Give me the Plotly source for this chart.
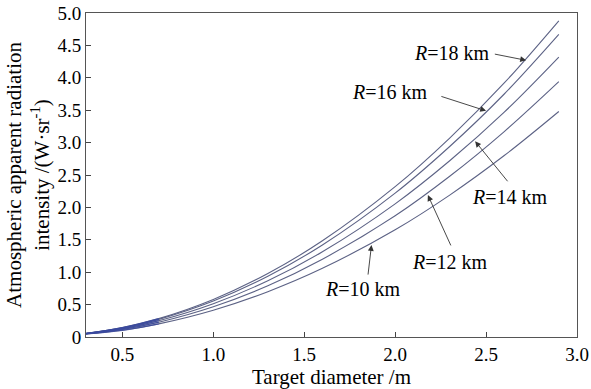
import plotly.graph_objects as go

diameter = [0.3, 0.5, 0.7, 1.0, 1.3, 1.6, 2.0, 2.3, 2.6, 2.9]
r18 = [0.055, 0.145, 0.284, 0.58, 0.98, 1.485, 2.32, 3.07, 3.92, 4.88]
r16 = [0.054, 0.139, 0.272, 0.555, 0.938, 1.42, 2.22, 2.94, 3.75, 4.67]
r14 = [0.052, 0.128, 0.252, 0.514, 0.868, 1.315, 2.055, 2.72, 3.47, 4.32]
r12 = [0.050, 0.117, 0.229, 0.468, 0.79, 1.2, 1.87, 2.48, 3.17, 3.94]
r10 = [0.048, 0.103, 0.203, 0.414, 0.70, 1.06, 1.655, 2.19, 2.80, 3.48]
series = [("R=18 km", r18), ("R=16 km", r16), ("R=14 km", r14), ("R=12 km", r12), ("R=10 km", r10)]

xticks = [0.5, 1.0, 1.5, 2.0, 2.5, 3.0]
xticklabels = ["0.5", "1.0", "1.5", "2.0", "2.5", "3.0"]
yticks = [0, 0.5, 1.0, 1.5, 2.0, 2.5, 3.0, 3.5, 4.0, 4.5, 5.0]
yticklabels = ["0", "0.5", "1.0", "1.5", "2.0", "2.5", "3.0", "3.5", "4.0", "4.5", "5.0"]

# label text position, arrow tail, arrow head (data coords)
labels = [
    ("<i>R</i>=18 km", 2.31, 4.38, 2.54, 4.37, 2.72, 4.27),
    ("<i>R</i>=16 km", 1.97, 3.78, 2.246, 3.72, 2.50, 3.49),
    ("<i>R</i>=14 km", 2.63, 2.16, 2.625, 2.38, 2.44, 3.02),
    ("<i>R</i>=12 km", 2.30, 1.16, 2.31, 1.39, 2.18, 2.19),
    ("<i>R</i>=10 km", 1.82, 0.74, 1.85, 0.94, 1.87, 1.42),
]

FONT = "Liberation Serif, DejaVu Serif, serif"
fig = go.Figure()
for name, ys in series:
    fig.add_trace(go.Scatter(x=diameter, y=ys, mode="lines", name=name,
                             line=dict(color="#5c6285", width=1.1, shape="spline", smoothing=1.0),
                             showlegend=False, hoverinfo="skip"))
# bluish low-diameter portion where the curves bunch together
for name, ys in series:
    fig.add_trace(go.Scatter(x=diameter[:3], y=ys[:3], mode="lines", name=name,
                             line=dict(color="#3a4aa0", width=1.4, shape="spline", smoothing=1.0),
                             opacity=0.8, showlegend=False, hoverinfo="skip"))

for text, tx, ty, ax, ay, hx, hy in labels:
    fig.add_annotation(x=tx, y=ty, text=text, showarrow=False, xref="x", yref="y",
                       font=dict(family=FONT, size=20, color="black"))
    fig.add_annotation(x=hx, y=hy, ax=ax, ay=ay, axref="x", ayref="y", xref="x", yref="y",
                       text="", showarrow=True, arrowhead=2, arrowsize=1.3, arrowwidth=0.9,
                       arrowcolor="#333333", standoff=0, startstandoff=0)

fig.update_layout(
    width=591, height=389,
    margin=dict(l=86, r=14, t=13, b=52),
    paper_bgcolor="white", plot_bgcolor="white",
    font=dict(family=FONT, size=19, color="black"),
)
fig.update_xaxes(range=[0.3, 3.0], tickvals=xticks, ticktext=xticklabels,
                 ticks="inside", ticklen=5, tickcolor="#444", showgrid=False, zeroline=False,
                 showline=True, linecolor="#555", linewidth=1, mirror=True,
                 title=dict(text="Target diameter /m", font=dict(size=21), standoff=0),
                 tickfont=dict(size=19), automargin=False)
fig.update_yaxes(range=[0, 5.0], tickvals=yticks, ticktext=yticklabels,
                 ticks="inside", ticklen=5, tickcolor="#444", showgrid=False, zeroline=False,
                 showline=True, linecolor="#555", linewidth=1, mirror=True,
                 title=dict(text="Atmospheric apparent radiation<br>intensity /(W·sr<sup>-1</sup>)",
                            font=dict(size=21), standoff=2),
                 tickfont=dict(size=19), automargin=False)

fig.write_html("out.html", config={"displayModeBar": False},
               post_script="document.body.style.margin='0';document.body.style.overflow='hidden';")
